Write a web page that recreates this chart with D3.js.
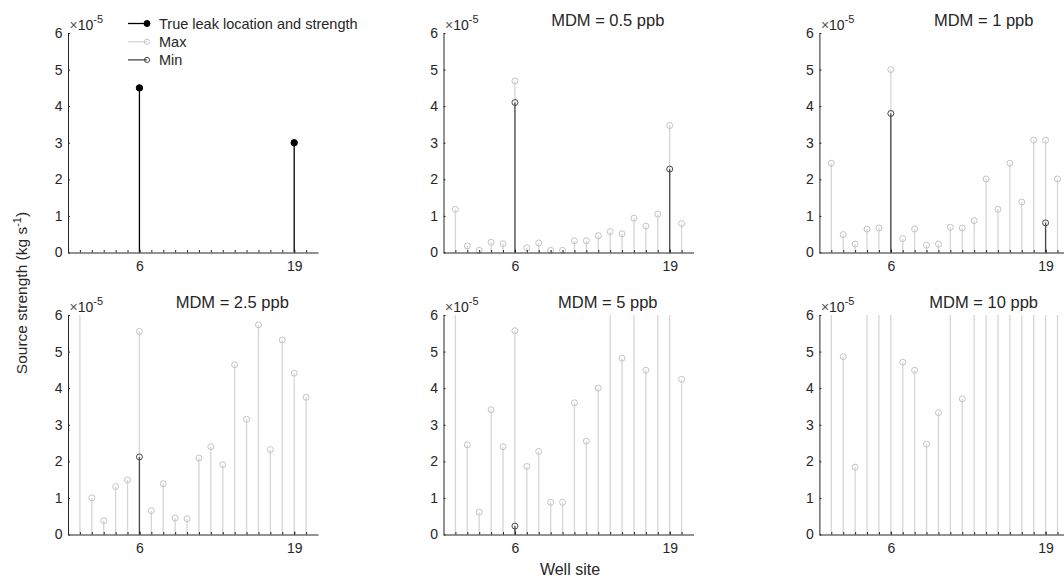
<!DOCTYPE html>
<html>
<head>
<meta charset="utf-8">
<script src="https://cdn.jsdelivr.net/npm/d3@7"></script>
<style>
  html, body { margin: 0; padding: 0; background: #fff; }
  svg { display: block; }
  text { font-family: "Liberation Sans", Arial, Helvetica, sans-serif; fill: #262626; }
</style>
</head>
<body>
<svg id="chart" width="1064" height="577"></svg>
<script>
// ---------------- DATA (source strength in units of 1e-5 kg/s) ----------------
const sites = [1, 2, 3, 4, 5, 6, 7, 8, 9, 10, 11, 12, 13, 14, 15, 16, 17, 18, 19, 20];
const labelledSites = [6, 19];
const yTicks = [0, 1, 2, 3, 4, 5, 6];

const trueSites = [6, 19];
const trueValues = [4.5, 3.0];

const panelTitles = ["MDM = 0.5 ppb", "MDM = 1 ppb", "MDM = 2.5 ppb", "MDM = 5 ppb", "MDM = 10 ppb"];

// Max estimate at each of the 20 sites (values above 6 run off the top of the axes)
const max05 = [1.18, 0.18, 0.06, 0.28, 0.24, 4.69, 0.13, 0.26, 0.06, 0.06, 0.32, 0.32, 0.46, 0.57, 0.51, 0.94, 0.72, 1.05, 3.47, 0.79];
const max1  = [2.44, 0.49, 0.23, 0.64, 0.67, 5.00, 0.38, 0.64, 0.20, 0.23, 0.69, 0.67, 0.87, 2.01, 1.18, 2.44, 1.38, 3.07, 3.07, 2.01];
const max25 = [8.00, 1.00, 0.38, 1.31, 1.49, 5.55, 0.65, 1.39, 0.45, 0.43, 2.09, 2.40, 1.91, 4.64, 3.15, 5.73, 2.32, 5.32, 4.41, 3.75];
const max5  = [8.00, 2.45, 0.61, 3.41, 2.40, 5.57, 1.86, 2.27, 0.88, 0.88, 3.60, 2.55, 4.00, 8.00, 4.82, 8.00, 4.49, 8.00, 8.00, 4.24];
const max10 = [8.00, 4.86, 1.84, 8.00, 8.00, 8.00, 4.71, 4.49, 2.47, 3.33, 8.00, 3.71, 8.00, 8.00, 8.00, 8.00, 8.00, 8.00, 8.00, 8.00];

// Min estimate (only non-zero minima are drawn)
const minSites05 = [6, 19];  const minValues05 = [4.10, 2.28];
const minSites1  = [6, 19];  const minValues1  = [3.80, 0.81];
const minSites25 = [6];      const minValues25 = [2.12];
const minSites5  = [6];      const minValues5  = [0.23];
const minSites10 = [];       const minValues10 = [];

const legendLabels = ["True leak location and strength", "Max", "Min"];

// ---------------- LAYOUT ----------------
const svg = d3.select("#chart");
svg.append("rect").attr("width", 1064).attr("height", 577).attr("fill", "#fff");

const colLeft = [68, 443.5, 819.4];
const axW = 250;
const rowTop = [33, 315];     // y of value 6
const rowBottom = [252.5, 534.5]; // y of value 0

const AXIS = "#262626", MAXC = "#d6d6d6", MAXM = "#c4c4c4", MINC = "#4a4a4a";
const FONT = "'Liberation Sans', Arial, Helvetica, sans-serif";

const panels = [
  {row: 0, col: 0, type: "true"},
  {row: 0, col: 1, title: panelTitles[0], max: max05, minS: minSites05, minV: minValues05},
  {row: 0, col: 2, title: panelTitles[1], max: max1,  minS: minSites1,  minV: minValues1},
  {row: 1, col: 0, title: panelTitles[2], max: max25, minS: minSites25, minV: minValues25},
  {row: 1, col: 1, title: panelTitles[3], max: max5,  minS: minSites5,  minV: minValues5},
  {row: 1, col: 2, title: panelTitles[4], max: max10, minS: minSites10, minV: minValues10}
];

panels.forEach((p, i) => {
  const x = d3.scaleLinear().domain([0, 21]).range([colLeft[p.col], colLeft[p.col] + axW]);
  const y = d3.scaleLinear().domain([0, 6]).range([rowBottom[p.row], rowTop[p.row]]);
  const g = svg.append("g");

  const clipId = "clip" + i;
  svg.append("clipPath").attr("id", clipId).append("rect")
    .attr("x", x(0) - 10).attr("y", y(6))
    .attr("width", axW + 20).attr("height", y(0) - y(6) + 5);

  const plot = g.append("g").attr("clip-path", `url(#${clipId})`);

  if (p.type === "true") {
    const data = trueSites.map((s, k) => ({s, v: trueValues[k]}));
    plot.selectAll("line.stem").data(data).join("line")
      .attr("x1", d => x(d.s)).attr("x2", d => x(d.s))
      .attr("y1", y(0)).attr("y2", d => y(d.v))
      .attr("stroke", "#000").attr("stroke-width", 1.3);
    plot.selectAll("circle").data(data).join("circle")
      .attr("cx", d => x(d.s)).attr("cy", d => y(d.v)).attr("r", 3.2)
      .attr("fill", "#000").attr("stroke", "#000");
  } else {
    const maxData = sites.map((s, k) => ({s, v: p.max[k]}));
    plot.selectAll("line.max").data(maxData).join("line").attr("class", "max")
      .attr("x1", d => x(d.s)).attr("x2", d => x(d.s))
      .attr("y1", y(0)).attr("y2", d => y(d.v))
      .attr("stroke", MAXC).attr("stroke-width", 1.3);
    plot.selectAll("circle.max").data(maxData.filter(d => d.v <= 6)).join("circle").attr("class", "max")
      .attr("cx", d => x(d.s)).attr("cy", d => y(d.v)).attr("r", 3)
      .attr("fill", "none").attr("stroke", MAXM).attr("stroke-width", 1);
    const minData = p.minS.map((s, k) => ({s, v: p.minV[k]}));
    plot.selectAll("line.min").data(minData).join("line").attr("class", "min")
      .attr("x1", d => x(d.s)).attr("x2", d => x(d.s))
      .attr("y1", y(0)).attr("y2", d => y(d.v))
      .attr("stroke", MINC).attr("stroke-width", 1.3);
    plot.selectAll("circle.min").data(minData).join("circle").attr("class", "min")
      .attr("cx", d => x(d.s)).attr("cy", d => y(d.v)).attr("r", 3)
      .attr("fill", "none").attr("stroke", MINC).attr("stroke-width", 1);
  }

  // x axis: minor ticks at each site, labels at 6 and 19
  const xMinor = g.append("g").attr("transform", `translate(0,${y(0)})`)
    .call(d3.axisBottom(x).tickValues(sites).tickSize(-2.5).tickSizeOuter(0).tickFormat(""));
  const xMajor = g.append("g").attr("transform", `translate(0,${y(0)})`)
    .call(d3.axisBottom(x).tickValues(labelledSites).tickSize(-3).tickSizeOuter(0).tickPadding(9)
      .tickFormat(d3.format("d")));
  [xMinor, xMajor].forEach(a => {
    a.selectAll("path, line").attr("stroke", AXIS).attr("stroke-width", 1);
    a.selectAll("text").attr("font-size", "14px").attr("fill", AXIS).attr("font-family", FONT);
  });
  xMajor.select(".domain").remove();

  const yAx = g.append("g").attr("transform", `translate(${x(0)},0)`)
    .call(d3.axisLeft(y).tickValues(yTicks).tickSize(-2).tickSizeOuter(0).tickPadding(5.5).tickFormat(d3.format("d")));
  yAx.selectAll("path, line").attr("stroke", AXIS).attr("stroke-width", 1);
  yAx.selectAll("text").attr("font-size", "14px").attr("fill", AXIS).attr("font-family", FONT);

  // exponent label
  const ex = g.append("text").attr("x", x(0) + 1.5).attr("y", y(6) - 3).attr("font-size", "14px");
  ex.append("tspan").attr("fill", "#555").text("\u00d7");
  ex.append("tspan").text("10");
  ex.append("tspan").attr("dy", -7).attr("font-size", "11px").text("-5");

  if (p.title) {
    g.append("text").attr("x", x(13.8)).attr("y", y(6) - 7)
      .attr("text-anchor", "middle").attr("font-size", "16.5px").attr("fill", "#000").text(p.title);
  }

  if (p.type === "true") {
    const legRows = [
      {label: legendLabels[0], line: "#000", marker: "#000", fill: "#000", r: 3},
      {label: legendLabels[1], line: MAXC, marker: MAXM, fill: "none", r: 2.6},
      {label: legendLabels[2], line: MINC, marker: MINC, fill: "none", r: 2.6}
    ];
    const leg = g.append("g");
    legRows.forEach((r, k) => {
      const cy = 23.5 + k * 18.2;
      leg.append("line").attr("x1", 128).attr("x2", 147).attr("y1", cy).attr("y2", cy)
        .attr("stroke", r.line).attr("stroke-width", 1.3);
      leg.append("circle").attr("cx", 147).attr("cy", cy).attr("r", r.r)
        .attr("fill", r.fill).attr("stroke", r.marker).attr("stroke-width", 1);
      leg.append("text").attr("x", 159).attr("y", cy + 5).attr("font-size", "14.5px").attr("fill", "#000").text(r.label);
    });
  }
});

// y label
const yl = svg.append("text")
  .attr("transform", "translate(27,293) rotate(-90)")
  .attr("text-anchor", "middle").attr("font-size", "15.5px");
yl.append("tspan").text("Source strength (kg s");
yl.append("tspan").attr("dy", -6).attr("font-size", "11px").text("-1");
yl.append("tspan").attr("dy", 6).text(")");

// x label
svg.append("text").attr("x", 570).attr("y", 575).attr("text-anchor", "middle")
  .attr("font-size", "16px").text("Well site");
</script>
</body>
</html>
